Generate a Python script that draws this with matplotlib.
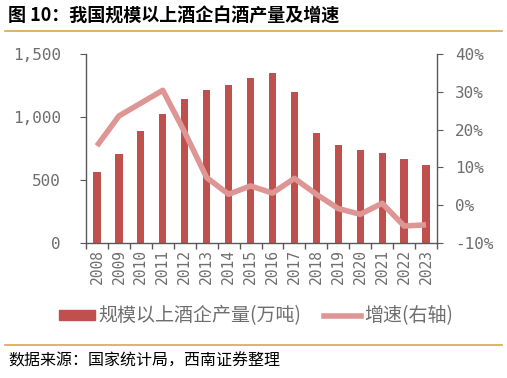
import matplotlib
matplotlib.use("Agg")
import matplotlib.pyplot as plt
from matplotlib.ticker import FuncFormatter, MultipleLocator
from matplotlib.lines import Line2D
from matplotlib.patches import Patch

plt.rcParams['font.family'] = ['Noto Sans CJK SC', 'DejaVu Sans']

years = ['2008', '2009', '2010', '2011', '2012', '2013', '2014', '2015',
         '2016', '2017', '2018', '2019', '2020', '2021', '2022', '2023']
production = [560, 705, 885, 1025, 1145, 1218, 1252, 1312, 1350, 1195,
              870, 775, 740, 715, 668, 622]
growth = [15.7, 23.6, 27.0, 30.4, 19.3, 7.3, 2.9, 5.1, 3.2, 7.1,
          2.9, -0.9, -2.4, 0.5, -5.5, -5.2]

bar_color = '#C0504D'
line_color = '#DE9694'
gold = '#D9A54E'
gray = '#595959'
label_gray = '#6E6E6E'

fig = plt.figure(figsize=(5.07, 3.78), dpi=100)
ax = fig.add_axes([86/507, 1-243/378, 351/507, 189/378])
ax2 = ax.twinx()

x = list(range(len(years)))
ax.bar(x, production, width=0.33, color=bar_color, zorder=2)
ax2.plot(x, growth, color=line_color, lw=4, solid_capstyle='butt', zorder=3)

ax.set_xlim(-0.5, len(years) - 0.5)
ax.set_ylim(0, 1500)
ax2.set_ylim(-10, 40)
ax.yaxis.set_major_locator(MultipleLocator(500))
ax2.yaxis.set_major_locator(MultipleLocator(10))
ax.yaxis.set_major_formatter(FuncFormatter(lambda v, p: f'{int(v):,}'))
ax2.yaxis.set_major_formatter(FuncFormatter(lambda v, p: f'{int(v)}%'))

ax.set_xticks([i - 0.5 for i in range(len(years) + 1)], minor=False)
ax.set_xticklabels([])
ax.set_xticks(x, minor=True)
ax.set_xticklabels(years, minor=True, rotation=90, family='DejaVu Sans Mono',
                   fontsize=10.5, color=label_gray)
ax.tick_params(axis='x', which='minor', length=0, pad=4)
ax.tick_params(axis='x', which='major', length=4, color=gray, width=1)

for a in (ax, ax2):
    for s in a.spines.values():
        s.set_visible(False)
ax.spines['left'].set_visible(True)
ax.spines['bottom'].set_visible(True)
ax2.spines['right'].set_visible(True)
for s in (ax.spines['left'], ax.spines['bottom'], ax2.spines['right']):
    s.set_color(gray)
    s.set_linewidth(1)

ax.tick_params(axis='y', length=4, color=gray, labelcolor=label_gray, pad=14)
ax2.tick_params(axis='y', length=4, color=gray, labelcolor=label_gray, pad=9)
for lab in ax.get_yticklabels() + ax2.get_yticklabels():
    lab.set_family('DejaVu Sans Mono')
    lab.set_fontsize(11.5)

handles = [Patch(color=bar_color), Line2D([0], [0], color=line_color, lw=4)]
fig.legend(handles, ['规模以上酒企产量(万吨)', '增速(右轴)'], loc='center',
           bbox_to_anchor=(256/507, 1-316/378), ncol=2, frameon=False,
           prop={'size': 13.7, 'weight': 'light'}, labelcolor=label_gray,
           handlelength=1.9, handleheight=0.45,
           columnspacing=1.2, handletextpad=0.2)

fig.text(8/507, 1-16/378, '图 10：我国规模以上酒企白酒产量及增速', fontsize=13,
         fontweight='bold', va='center', ha='left', color='black')
fig.add_artist(Line2D([5/507, 502/507], [1-31/378, 1-31/378], color=gold, lw=1.2))
fig.add_artist(Line2D([5/507, 502/507], [1-345/378, 1-345/378], color=gold, lw=1.2))
fig.text(8/507, 1-361/378, '数据来源：国家统计局，西南证券整理', fontsize=11.5,
         va='center', ha='left', color='black', style='italic')

fig.savefig('out.png', dpi=100)
